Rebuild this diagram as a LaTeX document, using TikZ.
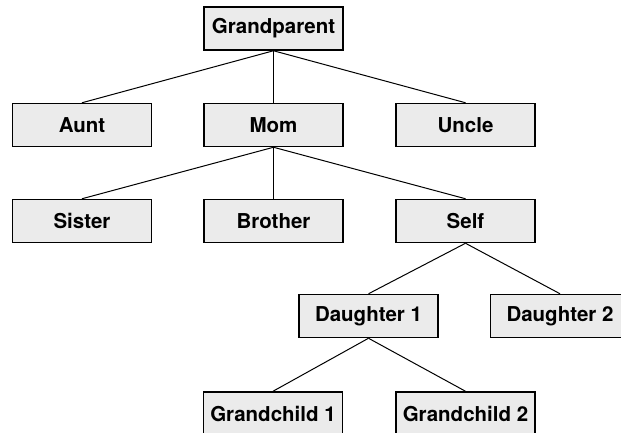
\documentclass[tikz,border=0pt]{standalone}
\usepackage{fontspec}
\setmainfont{TeX Gyre Heros}
\definecolor{boxfill}{HTML}{EBEBEB}
\begin{document}
\begin{tikzpicture}[x=1pt,y=-1pt,
  person/.style={draw=black, fill=boxfill, line width=1.5pt, minimum width=139pt, minimum height=43pt, inner sep=0pt,
    font=\fontsize{20.5pt}{24pt}\selectfont\bfseries},
  link/.style={draw=black, line width=1pt}]
\useasboundingbox (0,0) rectangle (621,432);
\clip (0,0) rectangle (621,432);
\node[person] (gp) at (273.5,28.5) {Grandparent};
\node[person] (aunt) at (82,125) {Aunt};
\node[person] (mom) at (273.5,125) {Mom};
\node[person] (uncle) at (465.5,125) {Uncle};
\node[person] (sister) at (82,221) {Sister};
\node[person] (brother) at (273.5,221) {Brother};
\node[person] (self) at (465.5,221) {Self};
\node[person] (d1) at (368.5,316) {Daughter 1};
\node[person] (d2) at (560,316) {Daughter 2};
\node[person] (g1) at (273,413.5) {Grandchild 1};
\node[person] (g2) at (465.5,413.5) {Grandchild 2};
\draw[link] (gp.south) -- (aunt.north);
\draw[link] (gp.south) -- (mom.north);
\draw[link] (gp.south) -- (uncle.north);
\draw[link] (mom.south) -- (sister.north);
\draw[link] (mom.south) -- (brother.north);
\draw[link] (mom.south) -- (self.north);
\draw[link] (self.south) -- (d1.north);
\draw[link] (self.south) -- (d2.north);
\draw[link] (d1.south) -- (g1.north);
\draw[link] (d1.south) -- (g2.north);
\end{tikzpicture}
\end{document}
